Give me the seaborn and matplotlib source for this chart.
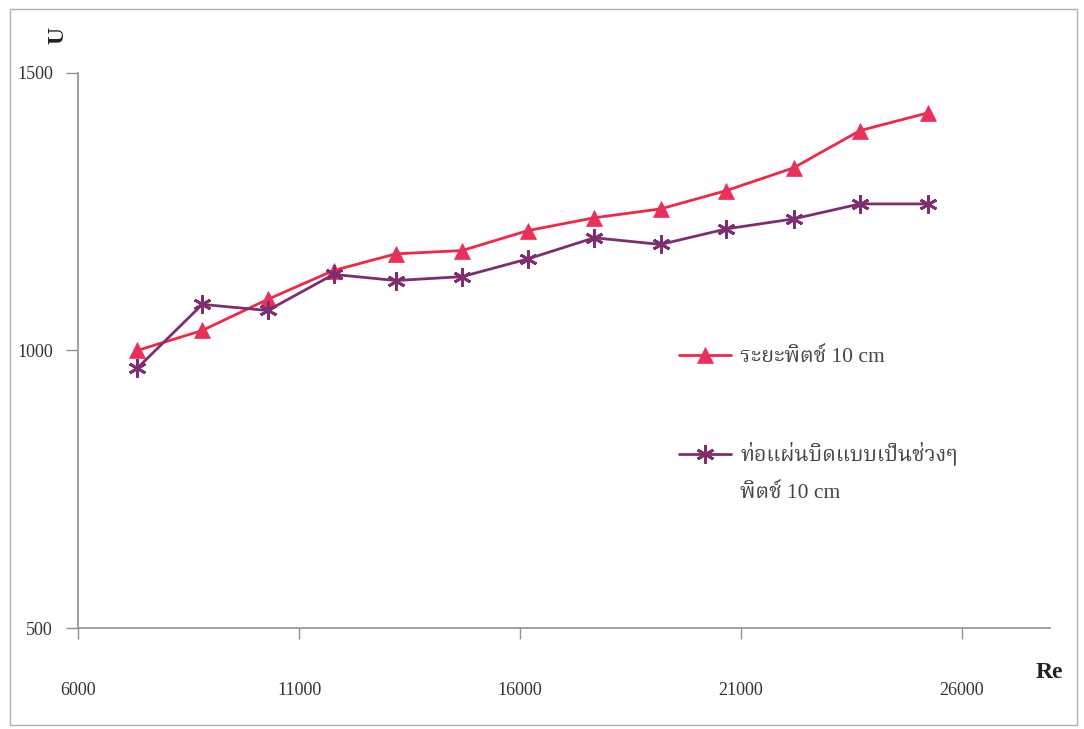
import numpy as np
import pandas as pd
import matplotlib
matplotlib.use("Agg")
import matplotlib.pyplot as plt
import seaborn as sns
from matplotlib import font_manager
from matplotlib.patches import Rectangle

# data
re_values = [7340, 8810, 10290, 11780, 13190, 14690, 16180, 17680, 19180, 20670, 22190, 23690, 25230]
u_pitch = [1000, 1036, 1092, 1144, 1174, 1180, 1216, 1239, 1255, 1288, 1329, 1396, 1428]
u_twisted = [968, 1083, 1072, 1137, 1126, 1133, 1165, 1203, 1191, 1219, 1237, 1264, 1264]
series_names = ["ระยะพิตช์ 10 cm", "ท่อแผ่นบิดแบบเป็นช่วงๆ"]
second_line = "พิตช์ 10 cm"
x_ticks = [6000, 11000, 16000, 21000, 26000]
y_ticks = [500, 1000, 1500]

sns.set_style("white")

# find any font that can draw Thai, looped / serif ones first
all_names = {f.name for f in font_manager.fontManager.ttflist}
thai_fonts = [n for n in ("Noto Serif Thai", "Noto Sans Thai Looped", "Norasi", "Kinnari",
                          "Loma", "Garuda", "Waree", "Sawasdee", "Umpush", "Tlwg Typo")
              if n in all_names]
thai_fonts += sorted(n for n in all_names if "Thai" in n and n not in thai_fonts)
serif_family = ["Liberation Serif"] + thai_fonts + ["DejaVu Sans"]
plt.rcParams["font.family"] = serif_family

df_pitch = pd.DataFrame({"Re": re_values, "U": u_pitch})
df_twisted = pd.DataFrame({"Re": re_values, "U": u_twisted})

red = "#f22646"
purple = "#7e2e6e"

fig = plt.figure(figsize=(10.84, 7.29), dpi=100)
ax = fig.add_axes([0.072, 0.1385, 0.897, 0.7615])

sns.lineplot(data=df_pitch, x="Re", y="U", color=red, linewidth=2, marker="^",
             markersize=11, markeredgecolor="#e8305a", markerfacecolor="#e8305a",
             markeredgewidth=0.5, label=series_names[0], ax=ax)
sns.lineplot(data=df_twisted, x="Re", y="U", color=purple, linewidth=2, marker=(6, 2, 0),
             markersize=13, markeredgecolor=purple, markeredgewidth=2,
             label=series_names[1], ax=ax)

ax.set_xlim(6000, 28000)
ax.set_ylim(500, 1500)
ax.set_xticks(x_ticks)
ax.set_yticks(y_ticks)
ax.set_xlabel("")
ax.set_ylabel("")

for side in ["top", "right"]:
    ax.spines[side].set_visible(False)
for side in ["left", "bottom"]:
    ax.spines[side].set_color("#909090")
    ax.spines[side].set_linewidth(1.2)

ax.tick_params(axis="y", direction="out", length=9, width=1, color="#909090",
               pad=9, labelsize=13, left=True, labelcolor="#333333")
ax.tick_params(axis="x", direction="out", length=8, width=1, color="#909090",
               pad=31, labelsize=13, bottom=True, labelcolor="#333333")

fig.text(0.053, 0.952, "U", fontsize=17, fontweight="bold", rotation=90,
         ha="center", va="center", color="#222222")
fig.text(0.968, 0.077, "Re", fontsize=17, fontweight="bold", ha="center", va="center",
         color="#222222")

leg = ax.legend(loc="upper left", bbox_to_anchor=(0.598, 0.541), frameon=False, fontsize=15.5,
                labelspacing=3.5, handlelength=2.4, handletextpad=0.45)
for t in leg.get_texts():
    t.set_color("#444444")

# second line of the purple legend label
fig.canvas.draw()
last = leg.get_texts()[1].get_window_extent()
fig.text(last.x0 / fig.bbox.width, (last.y0 - 37) / fig.bbox.height, second_line,
         fontsize=15.5, color="#444444", ha="left", va="bottom")

# thin frame around the whole picture
fig.patches.append(Rectangle((0.009, 0.005), 0.985, 0.983, transform=fig.transFigure,
                             fill=False, edgecolor="#b0b0b0", linewidth=1))

fig.savefig("out.png", dpi=100)
